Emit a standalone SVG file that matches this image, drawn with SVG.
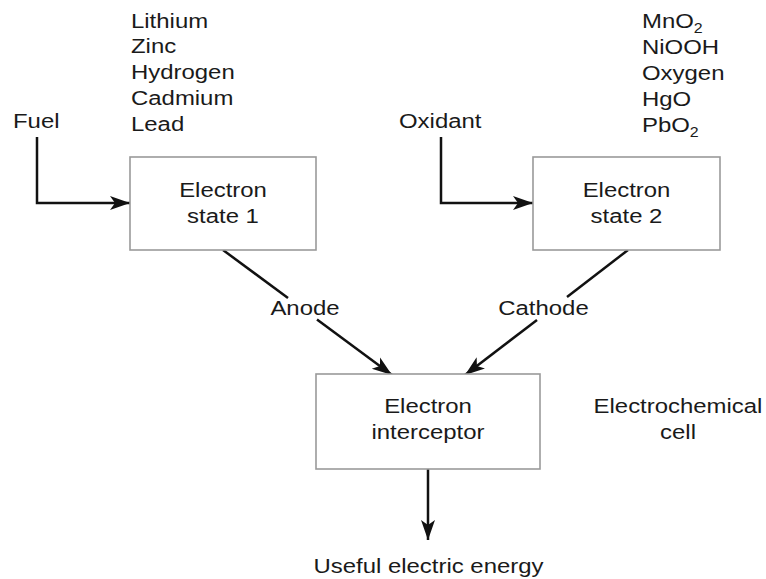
<svg xmlns="http://www.w3.org/2000/svg" width="766" height="579" viewBox="0 0 766 579">
<defs>
<style>
.t{font-family:"Liberation Sans",Arial,Helvetica,sans-serif;font-size:21px;fill:#1a1a1a}
.m{text-anchor:middle}
.sub{font-size:14px}
.box{fill:#fff;stroke:#9a9a9a;stroke-width:1.6}
.ln{fill:none;stroke:#111;stroke-width:2.5}
</style>
<marker id="ah" markerUnits="userSpaceOnUse" markerWidth="22" markerHeight="16" refX="20" refY="0" viewBox="0 -8 22 16" orient="auto">
<path d="M0,-7 L20,0 L0,7 L5,0 Z" fill="#111"/>
</marker>
</defs>
<rect width="766" height="579" fill="#fff"/>

<g id="connectors">
<path class="ln" d="M37,137 V203 H130" marker-end="url(#ah)"/>
<path class="ln" d="M441,137 V203 H533" marker-end="url(#ah)"/>
<path class="ln" d="M223,250 L288,298"/>
<path class="ln" d="M317,319.5 L392,375" marker-end="url(#ah)"/>
<path class="ln" d="M628,250 L567,297"/>
<path class="ln" d="M537,320 L465,375" marker-end="url(#ah)"/>
<path class="ln" d="M428,469 V540" marker-end="url(#ah)"/>
</g>

<g id="fuel-list">
<text class="t" transform="translate(131,27.5) scale(1.14,1)"><tspan x="0" y="0">Lithium</tspan><tspan x="0" y="26">Zinc</tspan><tspan x="0" y="52">Hydrogen</tspan><tspan x="0" y="78">Cadmium</tspan><tspan x="0" y="104">Lead</tspan></text>
</g>

<g id="oxidant-list">
<text class="t" transform="translate(642,28) scale(1.14,1)"><tspan x="0" y="0">MnO</tspan><tspan class="sub" dy="5">2</tspan><tspan x="0" y="26">NiOOH</tspan><tspan x="0" y="52">Oxygen</tspan><tspan x="0" y="78">HgO</tspan><tspan x="0" y="104">PbO</tspan><tspan class="sub" dy="5">2</tspan></text>
</g>

<g id="fuel">
<text class="t" transform="translate(13,128) scale(1.14,1)">Fuel</text>
</g>

<g id="oxidant">
<text class="t" transform="translate(399,128) scale(1.14,1)">Oxidant</text>
</g>

<g id="electron-state-1">
<rect class="box" x="130" y="157" width="186" height="93"/>
<text class="t m" transform="translate(223,197) scale(1.14,1)"><tspan x="0" y="0">Electron</tspan><tspan x="0" y="26.5">state 1</tspan></text>
</g>

<g id="electron-state-2">
<rect class="box" x="533" y="157" width="187" height="93"/>
<text class="t m" transform="translate(626.5,197) scale(1.14,1)"><tspan x="0" y="0">Electron</tspan><tspan x="0" y="26.5">state 2</tspan></text>
</g>

<g id="anode">
<text class="t m" transform="translate(305,315) scale(1.14,1)">Anode</text>
</g>

<g id="cathode">
<text class="t m" transform="translate(543.5,315) scale(1.14,1)">Cathode</text>
</g>

<g id="electron-interceptor">
<rect class="box" x="316" y="374" width="224" height="95"/>
<text class="t m" transform="translate(428,413) scale(1.14,1)"><tspan x="0" y="0">Electron</tspan><tspan x="0" y="26.5">interceptor</tspan></text>
</g>

<g id="electrochemical-cell">
<text class="t m" transform="translate(678,413) scale(1.14,1)"><tspan x="0" y="0">Electrochemical</tspan><tspan x="0" y="26.5">cell</tspan></text>
</g>

<g id="useful-energy">
<text class="t m" transform="translate(428.5,573) scale(1.14,1)">Useful electric energy</text>
</g>
</svg>
